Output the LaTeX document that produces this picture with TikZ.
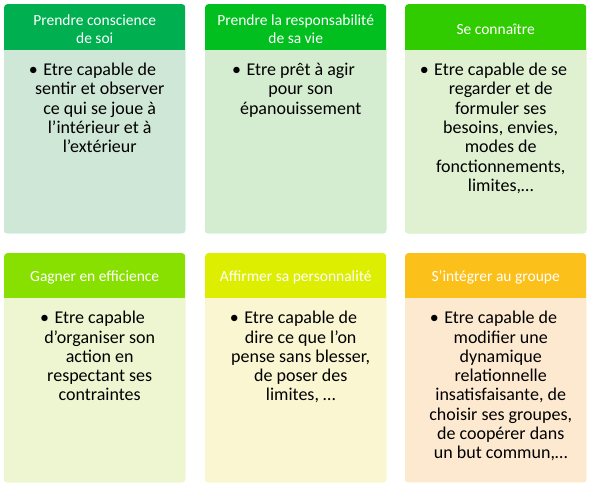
\documentclass[tikz,border=0pt]{standalone}
\usepackage{fontspec}
\setmainfont{Carlito}
\definecolor{hA}{HTML}{00B050}
\definecolor{hB}{HTML}{00BF1F}
\definecolor{hC}{HTML}{30CC00}
\definecolor{hD}{HTML}{88E000}
\definecolor{hE}{HTML}{DDEE00}
\definecolor{hF}{HTML}{FBC01A}
\definecolor{bA}{HTML}{CFE7D6}
\definecolor{bB}{HTML}{D4ECCF}
\definecolor{bC}{HTML}{E0F1D2}
\definecolor{bD}{HTML}{EEF6D1}
\definecolor{bE}{HTML}{FAF6D2}
\definecolor{bF}{HTML}{FDE9D0}
\tikzset{
  cardbox/.style={rectangle, inner sep=0pt, minimum width=181pt, minimum height=229pt, anchor=north west, rounded corners=3pt},
  headtext/.style={inner sep=0pt, align=center, text=white, font=\fontsize{15.5}{18}\selectfont},
  bodytext/.style={inner sep=0pt, align=center, anchor=north, text=black, font=\fontsize{18}{19.3}\selectfont},
}
\newcommand{\bul}{\llap{•\hspace{0.3em}}}
\newcommand{\mkcard}[6]{%
  % #1 name, #2 x, #3 y, #4 header colour, #5 body colour, #6 header height
  \node[cardbox, fill=#4] (#1) at (#2,#3) {};
  \begin{scope}
    \clip[rounded corners=3pt] (#1.south west) rectangle (#1.north east);
    \fill[#5] (#1.south west) rectangle ([yshift=-#6pt]#1.north east);
  \end{scope}
}
\begin{document}
\begin{tikzpicture}[x=1pt,y=-1pt]
\useasboundingbox[fill=white] (0,0) rectangle (593,489);
\mkcard{c1}{4}{4}{hA}{bA}{46}
\mkcard{c2}{205}{4}{hB}{bB}{46}
\mkcard{c3}{405}{4}{hC}{bC}{46}
\mkcard{c4}{4}{253}{hD}{bD}{45}
\mkcard{c5}{205}{253}{hE}{bE}{45}
\mkcard{c6}{405}{253}{hF}{bF}{45}

\node[headtext] (h1) at ([yshift=-25pt]c1.north) {Prendre conscience\\de soi};
\node[headtext] (h2) at ([yshift=-25pt]c2.north) {Prendre la responsabilité\\de sa vie};
\node[headtext] (h3) at ([yshift=-25pt]c3.north) {Se connaître};
\node[headtext] (h4) at ([yshift=-24pt]c4.north) {Gagner en efficience};
\node[headtext] (h5) at ([yshift=-24pt]c5.north) {Affirmer sa personnalité};
\node[headtext] (h6) at ([yshift=-24pt]c6.north) {S’intégrer au groupe};

\node[bodytext] (t1) at ([xshift=5pt,yshift=-59pt]c1.north) {\bul Etre capable de\\sentir et observer\\ce qui se joue à\\l’intérieur et à\\l’extérieur};
\node[bodytext] (t2) at ([xshift=5pt,yshift=-59pt]c2.north) {\bul Etre prêt à agir\\pour son\\épanouissement};
\node[bodytext] (t3) at ([xshift=5pt,yshift=-59pt]c3.north) {\bul Etre capable de se\\regarder et de\\formuler ses\\besoins, envies,\\modes de\\fonctionnements,\\limites,…};
\node[bodytext] (t4) at ([xshift=5pt,yshift=-58pt]c4.north) {\bul Etre capable\\d’organiser son\\action en\\respectant ses\\contraintes};
\node[bodytext] (t5) at ([xshift=5pt,yshift=-58pt]c5.north) {\bul Etre capable de\\dire ce que l’on\\pense sans blesser,\\de poser des\\limites, …};
\node[bodytext] (t6) at ([xshift=5pt,yshift=-58pt]c6.north) {\bul Etre capable de\\modifier une\\dynamique\\relationnelle\\insatisfaisante, de\\choisir ses groupes,\\de coopérer dans\\un but commun,…};
\end{tikzpicture}
\end{document}
